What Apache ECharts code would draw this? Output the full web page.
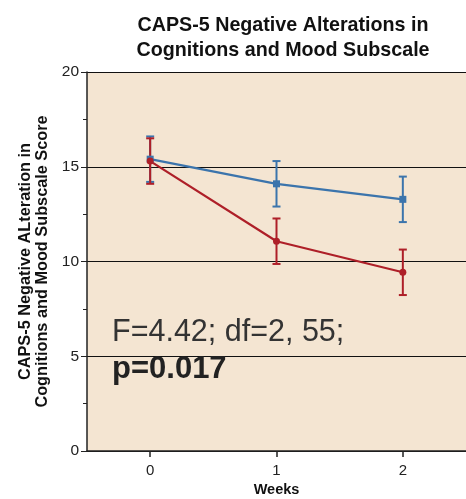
<!DOCTYPE html>
<html><head><meta charset="utf-8">
<script src="https://cdn.jsdelivr.net/npm/echarts@6/dist/echarts.min.js"></script>
<style>html,body{margin:0;padding:0;background:#fff}#c{width:466px;height:499px}</style>
</head><body><div id="c"></div>
<script>
const weeks = ['0', '1', '2'];
const blueMean = [15.4, 14.1, 13.28];
const blueErr = [1.2, 1.2, 1.2];
const redMean = [15.3, 11.07, 9.43];
const redErr = [1.2, 1.2, 1.2];

const blue = '#3B74AC';
const red = '#AE1F28';
const font = '"Liberation Sans", Arial, sans-serif';

function errSeries(means, errs, color) {
  return {
    type: 'custom',
    z: 3,
    data: weeks.map((w, i) => [i, means[i] - errs[i], means[i] + errs[i]]),
    renderItem: function (params, api) {
      const x = api.value(0);
      const lo = api.coord([x, api.value(1)]);
      const hi = api.coord([x, api.value(2)]);
      const hw = 4;
      const st = { stroke: color, lineWidth: 2 };
      return { type: 'group', children: [
        { type: 'line', shape: { x1: lo[0], y1: lo[1], x2: hi[0], y2: hi[1] }, style: st },
        { type: 'line', shape: { x1: lo[0] - hw, y1: lo[1], x2: lo[0] + hw, y2: lo[1] }, style: st },
        { type: 'line', shape: { x1: hi[0] - hw, y1: hi[1], x2: hi[0] + hw, y2: hi[1] }, style: st }
      ]};
    }
  };
}

const chart = echarts.init(document.getElementById('c'));
chart.setOption({
  animation: false,
  backgroundColor: '#fff',
  title: {
    text: 'CAPS-5 Negative Alterations in\nCognitions and Mood Subscale',
    left: 278, top: 8, textAlign: 'center',
    textStyle: { fontFamily: font, fontWeight: 'bold', fontSize: 19.7, lineHeight: 25, color: '#111' }
  },
  grid: { left: 87, right: 0, top: 72, bottom: 48, backgroundColor: '#F4E5D2', show: true, borderWidth: 0, outerBoundsMode: 'none', containLabel: false },
  xAxis: {
    type: 'category', data: weeks, boundaryGap: true,
    name: 'Weeks', nameLocation: 'middle', nameGap: 31,
    nameTextStyle: { fontFamily: font, fontWeight: 'bold', fontSize: 14.5, color: '#111' },
    axisLine: { lineStyle: { color: '#222', width: 1.5 } },
    axisTick: { show: true, alignWithLabel: true, length: 6, lineStyle: { color: '#222', width: 1.5 } },
    splitLine: { show: false },
    axisLabel: { fontFamily: font, fontSize: 15, color: '#222', margin: 12 }
  },
  yAxis: {
    type: 'value', min: 0, max: 20, interval: 5,
    name: 'CAPS-5 Negative ALteration in\nCognitions and Mood Subscale Score',
    nameLocation: 'middle', nameGap: 29,
    nameTextStyle: { fontFamily: font, fontWeight: 'bold', fontSize: 16.3, lineHeight: 17, color: '#111' },
    axisLine: { show: true, onZero: false, lineStyle: { color: '#222', width: 1.5 } },
    axisTick: { show: true, length: 6, lineStyle: { color: '#222', width: 1 } },
    minorTick: { show: true, splitNumber: 2, length: 4, lineStyle: { color: '#222' } },
    splitLine: { show: true, lineStyle: { color: '#111', width: 1.2 } },
    axisLabel: { fontFamily: font, fontSize: 15.5, color: '#222', margin: 8 }
  },
  graphic: [
    { type: 'text', left: 112, top: 317, z: 10, style: { text: 'F=4.42; df=2, 55;', font: '30.5px ' + font, fill: '#333' } },
    { type: 'text', left: 112, top: 354, z: 10, style: { text: 'p=0.017', font: 'bold 31px ' + font, fill: '#222' } }
  ],
  series: [
    errSeries(blueMean, blueErr, blue),
    errSeries(redMean, redErr, red),
    {
      type: 'line', z: 4, data: blueMean,
      symbol: 'rect', symbolSize: 7, itemStyle: { color: blue }, lineStyle: { color: blue, width: 2.2 }
    },
    {
      type: 'line', z: 4, data: redMean,
      symbol: 'circle', symbolSize: 7, itemStyle: { color: red }, lineStyle: { color: red, width: 2.2 }
    }
  ]
});
</script></body></html>
